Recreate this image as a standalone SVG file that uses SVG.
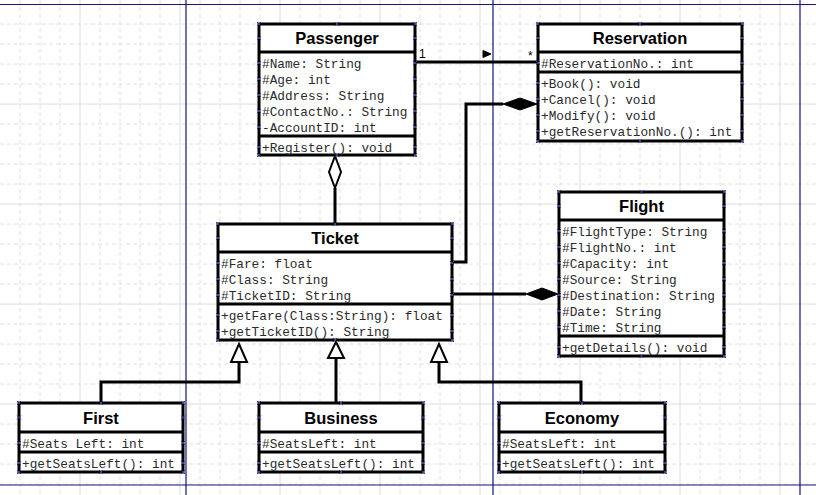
<svg xmlns="http://www.w3.org/2000/svg" width="816" height="495" viewBox="0 0 816 495">
<style>
.gd{fill:none;stroke:#e0e0e0;stroke-width:1;stroke-dasharray:4 3}
.gs{fill:none;stroke:#dcdcdc;stroke-width:1}
.pg{fill:none;stroke:#14147a;stroke-width:1.2}
.box{fill:#fff;stroke:#000;stroke-width:3}
.sep{fill:none;stroke:#000;stroke-width:3}
.t{font-family:"Liberation Sans",Arial,sans-serif;font-weight:bold;font-size:16.5px;text-anchor:middle;fill:#000}
.m{font-family:"Liberation Mono","Courier New",monospace;font-size:12.75px;fill:#2a2a2a}
.mk{fill:none;stroke:none;marker-start:url(#xm);marker-mid:url(#xm);marker-end:url(#xm)}
.ln{fill:none;stroke:#000;stroke-width:3}
.hol{fill:#fff;stroke:#000;stroke-width:2}
.fil{fill:#000;stroke:#000;stroke-width:1}
.lb{font-family:"Liberation Sans",Arial,sans-serif;font-size:12px;fill:#000}
</style>
<defs>
<marker id="xm" markerUnits="userSpaceOnUse" markerWidth="6" markerHeight="6" refX="3" refY="3" overflow="visible">
<path d="M1,1 L5,5 M5,1 L1,5" stroke="#3b3b9b" stroke-width="1" fill="none"/>
</marker>
</defs>
<rect width="816" height="495" fill="#fff"/>
<g id="grid">
<path class="gd" d="M20 0V495M40 0V495M60 0V495M100 0V495M120 0V495M140 0V495M160 0V495M200 0V495M220 0V495M240 0V495M260 0V495M300 0V495M320 0V495M340 0V495M360 0V495M400 0V495M420 0V495M440 0V495M460 0V495M500 0V495M520 0V495M540 0V495M560 0V495M600 0V495M620 0V495M640 0V495M660 0V495M700 0V495M720 0V495M740 0V495M760 0V495"/>
<path class="gd" d="M0 24H816M0 44H816M0 64H816M0 84H816M0 124H816M0 144H816M0 164H816M0 184H816M0 224H816M0 244H816M0 264H816M0 284H816M0 324H816M0 344H816M0 364H816M0 384H816M0 424H816M0 444H816M0 464H816M0 484H816"/>
<path class="gs" d="M80 0V495M180 0V495M280 0V495M380 0V495M480 0V495M580 0V495M680 0V495M780 0V495M0 104H816M0 204H816M0 304H816M0 404H816"/>
<path class="pg" d="M186 0V495M493 0V495M800 0V495M0 4.5H816M0 485H816"/>
</g>
<g id="connectors">
<path class="ln" d="M415 62H538" stroke-width="2.5"/>
<polygon class="fil" points="483,50.5 491,54 483,57.5"/>
<text class="lb" x="419" y="58">1</text>
<text class="lb" x="528" y="60">*</text>
<path class="ln" d="M335 188V224"/>
<polygon class="hol" points="335,156 341,172 335,188 329,172"/>
<path class="ln" d="M452 262H466V104H503"/>
<polygon class="fil" points="537,104 520,98 503,104 520,110"/>
<path class="ln" d="M452 294H526"/>
<polygon class="fil" points="558,294 542,288 526,294 542,300"/>
<path class="ln" d="M239 362V382H101V403"/>
<polygon class="hol" points="239,344 247,362 231,362"/>
<path class="ln" d="M336 358V403"/>
<polygon class="hol" points="336,342 344,358 328,358"/>
<path class="ln" d="M439 362V382H581V403"/>
<polygon class="hol" points="439,344 447,362 431,362"/>
</g>
<g id="passenger">
<rect class="box" x="259" y="24" width="156" height="131"/>
<path class="sep" d="M259 52H415M259 136H415"/>
<text class="t" x="337" y="44">Passenger</text>
<text class="m" x="262" y="67.5">#Name: String</text>
<text class="m" x="262" y="83.5">#Age: int</text>
<text class="m" x="262" y="99.5">#Address: String</text>
<text class="m" x="262" y="115.5">#ContactNo.: String</text>
<text class="m" x="262" y="131.5">-AccountID: int</text>
<text class="m" x="262" y="151.5">+Register(): void</text>
<polyline class="mk" points="259,24 259,38 259,63 259,79 259,95 259,111 259,127 259,147 259,155 337,155 415,155 415,147 415,127 415,111 415,95 415,79 415,63 415,38 415,24 337,24"/>
</g>
<g id="reservation">
<rect class="box" x="538" y="24" width="204" height="117"/>
<path class="sep" d="M538 52H742M538 72H742"/>
<text class="t" x="640" y="44">Reservation</text>
<text class="m" x="541" y="67.5">#ReservationNo.: int</text>
<text class="m" x="541" y="87.5">+Book(): void</text>
<text class="m" x="541" y="103.5">+Cancel(): void</text>
<text class="m" x="541" y="119.5">+Modify(): void</text>
<text class="m" x="541" y="135.5">+getReservationNo.(): int</text>
<polyline class="mk" points="538,24 538,38 538,63 538,83 538,99 538,115 538,131 538,141 640,141 742,141 742,131 742,115 742,99 742,83 742,63 742,38 742,24 640,24"/>
</g>
<g id="ticket">
<rect class="box" x="218" y="224" width="234" height="116"/>
<path class="sep" d="M218 252H452M218 304H452"/>
<text class="t" x="335" y="244">Ticket</text>
<text class="m" x="221" y="267.5">#Fare: float</text>
<text class="m" x="221" y="283.5">#Class: String</text>
<text class="m" x="221" y="299.5">#TicketID: String</text>
<text class="m" x="221" y="319.5">+getFare(Class:String): float</text>
<text class="m" x="221" y="335.5">+getTicketID(): String</text>
<polyline class="mk" points="218,224 218,238 218,263 218,279 218,295 218,315 218,331 218,340 335,340 452,340 452,331 452,315 452,295 452,279 452,263 452,238 452,224 335,224"/>
</g>
<g id="flight">
<rect class="box" x="559" y="192" width="165" height="164"/>
<path class="sep" d="M559 220H724M559 336H724"/>
<text class="t" x="641.5" y="212">Flight</text>
<text class="m" x="562" y="235.5">#FlightType: String</text>
<text class="m" x="562" y="251.5">#FlightNo.: int</text>
<text class="m" x="562" y="267.5">#Capacity: int</text>
<text class="m" x="562" y="283.5">#Source: String</text>
<text class="m" x="562" y="299.5">#Destination: String</text>
<text class="m" x="562" y="315.5">#Date: String</text>
<text class="m" x="562" y="331.5">#Time: String</text>
<text class="m" x="562" y="351.5">+getDetails(): void</text>
<polyline class="mk" points="559,192 559,206 559,231 559,247 559,263 559,279 559,295 559,311 559,327 559,347 559,356 641.5,356 724,356 724,347 724,327 724,311 724,295 724,279 724,263 724,247 724,231 724,206 724,192 641.5,192"/>
</g>
<g id="first">
<rect class="box" x="19" y="403" width="164" height="69"/>
<path class="sep" d="M19 432H183M19 452H183"/>
<text class="t" x="101" y="423.5">First</text>
<text class="m" x="22" y="447.5">#Seats Left: int</text>
<text class="m" x="22" y="467.5">+getSeatsLeft(): int</text>
<polyline class="mk" points="19,403 19,417.5 19,443 19,463 19,472 101,472 183,472 183,463 183,443 183,417.5 183,403 101,403"/>
</g>
<g id="business">
<rect class="box" x="259" y="403" width="164" height="69"/>
<path class="sep" d="M259 432H423M259 452H423"/>
<text class="t" x="341" y="423.5">Business</text>
<text class="m" x="262" y="447.5">#SeatsLeft: int</text>
<text class="m" x="262" y="467.5">+getSeatsLeft(): int</text>
<polyline class="mk" points="259,403 259,417.5 259,443 259,463 259,472 341,472 423,472 423,463 423,443 423,417.5 423,403 341,403"/>
</g>
<g id="economy">
<rect class="box" x="499" y="403" width="166" height="69"/>
<path class="sep" d="M499 432H665M499 452H665"/>
<text class="t" x="582" y="423.5">Economy</text>
<text class="m" x="502" y="447.5">#SeatsLeft: int</text>
<text class="m" x="502" y="467.5">+getSeatsLeft(): int</text>
<polyline class="mk" points="499,403 499,417.5 499,443 499,463 499,472 582,472 665,472 665,463 665,443 665,417.5 665,403 582,403"/>
</g>
</svg>
